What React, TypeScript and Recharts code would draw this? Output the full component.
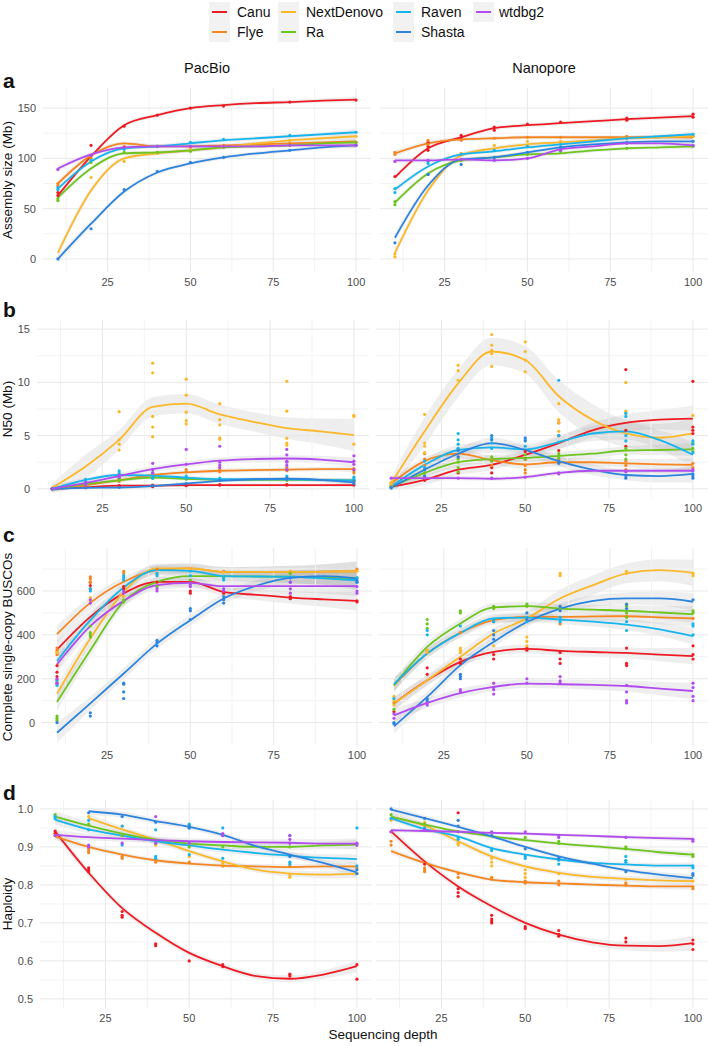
import React from 'react';
import { ComposedChart, Line, Scatter, Area, XAxis, YAxis, ReferenceLine } from 'recharts';

const FONT = '"Liberation Sans", Arial, Helvetica, sans-serif';

const ASSEMBLERS = ['Canu', 'Flye', 'NextDenovo', 'Ra', 'Raven', 'Shasta', 'wtdbg2'];
const COLORS = ['#EE1B24', '#F6861F', '#FBB829', '#6DC51E', '#17B5EE', '#2C84DF', '#B24CF0'];
const DEPTHS = [10, 20, 30, 40, 50, 60, 80, 100];
const FIT_DEPTHS = [10, 20, 30, 40, 50, 60, 70, 80, 90, 100];
const X_TICKS = [25, 50, 75, 100];
const X_MINOR = [12.5, 37.5, 62.5, 87.5];

// ---- a: assembly size (Mb) ----
const SIZE_PB_FIT = [
  [63, 102, 133, 143, 150, 153, 155, 156, 157.5, 158.5],
  [75, 103, 115, 112, 112, 113, 114, 115, 116, 117],
  [6, 68, 100, 105, 108, 111, 115, 118, 120, 122],
  [61, 90, 105, 106, 108, 111, 112, 113, 115, 116],
  [70, 97, 110, 112, 115, 118, 120, 122, 124, 126],
  [0, 35, 67, 86, 95, 101, 105, 108, 111, 113],
  [90, 104, 111, 112, 112, 112, 112, 113, 113, 113],
];
const SIZE_PB_PTS = [
  [[63, 66], [113], [132], [143], [150], [152], [156], [158]],
  [[75, 73], [100], [112], [112], [111], [113], [115], [116]],
  [[], [81], [97], [105], [108], [112], [118], [122]],
  [[58, 60], [96], [106], [106], [107], [111], [113], [116]],
  [[69, 71], [98], [109], [112], [116], [119], [123], [126]],
  [[0], [30], [69], [87], [96], [101], [108], [113]],
  [[89], [103], [111], [112], [112], [112], [113], [113]],
];
const SIZE_PB_SE = [
  [3, 2, 2, 2, 2, 2, 2, 2, 2, 3],
  [3, 2, 2, 2, 2, 2, 2, 2, 2, 3],
  [4, 3, 2, 2, 2, 2, 2, 2, 2, 3],
  [3, 2, 2, 2, 2, 2, 2, 2, 2, 3],
  [3, 2, 2, 2, 2, 2, 2, 2, 2, 3],
  [4, 3, 2, 2, 2, 2, 2, 2, 2, 3],
  [3, 2, 2, 2, 2, 2, 2, 2, 2, 3],
];
const SIZE_NP_FIT = [
  [81, 110, 121, 130, 133, 135, 137, 139, 140.5, 142],
  [105, 115, 119, 120, 121, 121, 121, 121, 121, 121],
  [6, 68, 103, 110, 114, 116, 118, 120, 121, 122],
  [56, 85, 98, 101, 104, 105, 108, 110, 111, 112],
  [69, 92, 104, 107, 111, 114, 117, 120, 122, 124],
  [21, 73, 99, 101, 106, 111, 114, 116, 117, 117],
  [98, 98, 99, 98, 100, 109, 112, 115, 115, 113],
];
const SIZE_NP_PTS = [
  [[82], [116, 112, 108], [123, 121], [131, 128], [134], [136], [140, 138], [144, 141]],
  [[106, 104], [118, 114], [118], [120], [121], [121], [122], [122]],
  [[2, 5], [], [105], [113], [117], [117], [120], [122]],
  [[54, 57], [84], [98], [101], [104], [107], [110], [112]],
  [[66, 70], [97, 95], [104], [108], [112], [114], [120], [124]],
  [[16], [84], [94], [101], [106], [111], [116], [117]],
  [[97], [98], [99], [98], [100], [108], [115], [113]],
];
const SIZE_NP_SE = SIZE_PB_SE;

// ---- b: N50 (Mb) ----
const N50_PB_FIT = [
  [0, 0.15, 0.3, 0.3, 0.35, 0.35, 0.35, 0.35, 0.35, 0.35],
  [0, 0.35, 0.8, 1.3, 1.55, 1.7, 1.75, 1.8, 1.85, 1.85],
  [0.1, 2.1, 4.6, 7.7, 8.0, 7.0, 6.3, 5.7, 5.4, 5.05],
  [0, 0.45, 0.8, 1.05, 0.95, 0.85, 0.85, 0.85, 0.82, 0.8],
  [0, 0.85, 1.3, 1.25, 1.05, 0.9, 0.9, 0.9, 0.85, 0.8],
  [0, 0.1, 0.12, 0.25, 0.5, 0.75, 0.9, 0.95, 0.85, 0.6],
  [0, 0.55, 1.2, 1.85, 2.3, 2.65, 2.8, 2.85, 2.75, 2.5],
];
const N50_PB_PTS = [
  [[0], [0.15], [0.3, 0.2], [0.35, 0.2], [0.35, 0.3], [0.4, 0.35], [0.4, 0.35], [0.35]],
  [[0], [0.3], [0.9, 0.7], [1.5, 1.2], [1.8, 1.6], [1.8, 1.6], [2.0, 1.8, 1.7], [1.9, 1.7, 1.5]],
  [[0], [], [7.25, 4.6, 4.2, 3.65], [11.8, 10.9, 6.8, 5.8, 4.9], [10.3, 8.8, 7.2, 6.4, 6.1], [8.0, 6.5, 6.0, 4.8, 4.65], [10.1, 7.3, 4.75, 4.3, 4.1], [6.9, 6.8, 4.2]],
  [[0], [0.5], [1.0, 0.8], [1.2, 1.0], [1.0, 0.9], [0.9], [0.9, 0.8], [0.8, 0.7]],
  [[0], [0.9, 0.7], [1.7, 1.5, 1.3], [1.5, 1.2, 1.0], [1.2, 1.0], [1.0, 0.9], [1.2, 1.0, 0.9], [1.1, 0.9]],
  [[0], [0.1], [0.15], [0.3], [0.5], [0.8], [1.0, 0.9], [0.7, 0.5]],
  [[0], [0.6, 0.4], [1.3, 1.1], [2.4, 1.8, 1.5], [3.7, 2.3], [4.0, 2.5, 2.2, 2.0], [3.7, 3.2, 2.6, 2.5, 2.2, 1.8], [3.1, 2.6, 2.3, 1.8]],
];
const N50_PB_SE = [
  [0.2, 0.15, 0.15, 0.15, 0.15, 0.15, 0.15, 0.15, 0.15, 0.2],
  [0.25, 0.2, 0.2, 0.2, 0.2, 0.2, 0.2, 0.2, 0.2, 0.3],
  [0.4, 1.1, 0.9, 0.9, 0.9, 0.9, 0.9, 1.0, 1.2, 1.5],
  [0.2, 0.15, 0.15, 0.15, 0.15, 0.15, 0.15, 0.15, 0.15, 0.2],
  [0.25, 0.2, 0.2, 0.2, 0.2, 0.2, 0.2, 0.2, 0.2, 0.25],
  [0.2, 0.15, 0.15, 0.15, 0.15, 0.15, 0.15, 0.15, 0.2, 0.25],
  [0.4, 0.3, 0.3, 0.3, 0.3, 0.3, 0.3, 0.3, 0.35, 0.45],
];
const N50_NP_FIT = [
  [0.2, 0.85, 1.8, 2.25, 3.2, 4.3, 5.5, 6.2, 6.5, 6.6],
  [0.5, 2.6, 3.3, 2.7, 2.3, 2.5, 2.5, 2.4, 2.3, 2.25],
  [0.5, 5.4, 9.9, 12.9, 12.1, 8.7, 6.5, 5.2, 4.8, 5.2],
  [0.2, 1.5, 2.5, 2.8, 2.9, 3.1, 3.3, 3.6, 3.65, 3.7],
  [0.2, 2.25, 3.65, 3.9, 3.7, 4.4, 5.2, 5.4, 4.6, 3.2],
  [0.1, 1.8, 3.3, 4.3, 3.65, 2.6, 1.8, 1.3, 1.2, 1.4],
  [1.0, 1.0, 1.0, 0.95, 1.1, 1.5, 1.7, 1.7, 1.7, 1.7],
];
const N50_NP_PTS = [
  [[0.2], [0.8], [1.5], [2.0, 1.5], [3.5, 2.8], [6.2, 5.0, 3.6], [11.2, 5.5, 4.0], [10.1, 5.8, 5.5, 5.2]],
  [[0.5, 0.3], [3.3, 2.8, 2.2], [3.8, 3.0], [2.7, 2.2], [2.2, 1.8, 1.5], [2.8, 2.5], [2.6, 2.2, 1.8], [2.4, 2.0]],
  [[0.6, 0.4], [7.0, 4.3, 4.0, 3.4], [11.6, 11.1, 10.2], [14.5, 13.5, 13.0, 12.7, 11.5], [13.8, 12.9, 12.1, 11.0], [8.0, 6.5, 6.2, 5.4], [10.0, 7.3, 7.1], [6.9]],
  [[0.2], [1.5, 1.2], [2.8, 2.5, 2.0, 1.6], [3.0, 2.6], [3.2, 2.8], [3.3, 2.9], [3.8, 3.2, 2.8], [4.3, 3.8, 3.5]],
  [[0.1], [2.6, 2.0], [5.2, 4.6, 4.2, 3.8], [4.8, 4.3, 3.8], [4.6, 4.0], [10.2, 5.0, 4.4], [7.1, 6.8, 5.0, 4.5], [4.5, 4.2, 3.4]],
  [[0.1], [1.8, 1.2], [3.6, 3.0], [5.0, 4.6], [4.8, 4.5], [2.6, 2.4], [1.2, 1.0], [1.4, 1.2, 1.0]],
  [[1.0], [1.0], [1.0], [1.0], [1.1], [1.5, 1.4], [1.7, 1.6], [1.8, 1.7]],
];
const N50_NP_SE = [
  [0.3, 0.5, 0.5, 0.5, 0.5, 0.6, 0.7, 0.8, 0.9, 1.2],
  [0.3, 0.4, 0.4, 0.4, 0.4, 0.4, 0.4, 0.4, 0.5, 0.6],
  [0.6, 1.3, 1.3, 1.3, 1.3, 1.5, 1.5, 1.3, 1.3, 1.4],
  [0.3, 0.4, 0.4, 0.4, 0.4, 0.4, 0.4, 0.4, 0.5, 0.6],
  [0.3, 0.5, 0.5, 0.5, 0.5, 0.6, 0.7, 0.8, 0.9, 1.2],
  [0.3, 0.5, 0.5, 0.5, 0.5, 0.5, 0.5, 0.5, 0.6, 0.8],
  [0.2, 0.2, 0.2, 0.2, 0.2, 0.2, 0.2, 0.2, 0.2, 0.3],
];

// ---- c: complete single-copy BUSCOs ----
const BUSCO_PB_FIT = [
  [333, 482, 589, 642, 642, 596, 582, 570, 562, 555],
  [403, 546, 642, 695, 703, 687, 687, 687, 688, 690],
  [132, 383, 596, 703, 703, 687, 687, 687, 688, 690],
  [94, 330, 551, 642, 668, 668, 666, 665, 662, 655],
  [281, 467, 616, 695, 692, 668, 666, 665, 658, 649],
  [-46, 88, 224, 360, 467, 566, 625, 660, 668, 657],
  [266, 440, 555, 627, 637, 622, 622, 622, 622, 622],
];
const BUSCO_PB_PTS = [
  [[260, 230, 210, 195, 180], [640, 625, 610], [620, 610], [640], [600, 590], [590], [575, 565], [555, 550]],
  [[340, 330, 320, 310], [665, 655, 640], [690, 680], [700], [700], [690], [690], [700]],
  [[320], [570, 555], [575], [680], [700], [685], [690], [690]],
  [[30, 20, 10], [440, 410, 400, 390], [560, 550], [620], [650], [660], [680], [660]],
  [[170, 190], [610, 600], [670, 660, 650], [680, 670], [690, 670], [660, 650], [660], [660, 640]],
  [[0], [45, 30], [180, 175, 140, 110], [375, 365, 350], [520, 510, 470], [575, 560, 545], [660, 640], [650, 640]],
  [[200, 180], [560, 545], [600, 590], [610, 600], [630, 620], [610, 600], [640, 610, 590], [620, 600, 590]],
];
const BUSCO_PB_SE = [
  [40, 28, 22, 22, 22, 22, 24, 28, 34, 45],
  [40, 28, 22, 22, 22, 22, 24, 28, 34, 45],
  [40, 28, 22, 22, 22, 22, 24, 28, 34, 45],
  [40, 28, 22, 22, 22, 22, 24, 28, 34, 45],
  [40, 28, 22, 22, 22, 22, 24, 28, 34, 45],
  [45, 30, 25, 25, 25, 25, 26, 30, 36, 48],
  [40, 28, 22, 22, 22, 22, 24, 28, 34, 45],
];
const BUSCO_NP_FIT = [
  [87, 193, 277, 322, 336, 327, 322, 318, 310, 303],
  [170, 315, 409, 467, 482, 482, 484, 485, 480, 475],
  [87, 193, 300, 406, 475, 566, 627, 680, 695, 683],
  [170, 345, 452, 525, 531, 520, 515, 510, 502, 494],
  [175, 315, 409, 475, 479, 470, 460, 447, 425, 394],
  [-17, 117, 262, 368, 459, 520, 555, 566, 566, 551],
  [33, 90, 135, 163, 178, 175, 172, 167, 155, 144],
];
const BUSCO_NP_PTS = [
  [[50], [250, 220], [290, 270], [310, 290], [340, 330], [320, 290, 270], [340, 270, 260], [350, 310, 290]],
  [[90], [330], [410], [460], [480], [450], [485], [475]],
  [[120, 100, 80], [330, 320], [340, 330, 320], [350], [390, 370, 350], [680, 670], [690, 680], [680, 670]],
  [[60], [470, 450, 430], [510, 500], [530, 520], [540, 530], [520], [530, 500, 480], [510, 500]],
  [[110], [420, 400], [440], [470, 460], [480, 460], [480, 460], [460, 420], [450, 440, 400]],
  [[0, -5], [110, 100], [220, 210, 200], [420, 400, 380], [500, 470], [530, 510], [540, 520], [560]],
  [[40, 20], [90, 80], [150, 140], [180, 160, 150, 130], [200, 180], [210, 190, 180], [170, 140, 100, 90], [180, 160, 120, 100]],
];
const BUSCO_NP_SE = [
  [30, 22, 20, 20, 20, 20, 22, 25, 30, 38],
  [30, 22, 20, 20, 20, 20, 22, 25, 30, 38],
  [30, 25, 25, 25, 30, 40, 45, 45, 50, 60],
  [30, 22, 20, 20, 20, 20, 22, 25, 30, 38],
  [30, 22, 20, 20, 20, 20, 22, 25, 30, 38],
  [32, 25, 22, 22, 22, 24, 26, 28, 32, 40],
  [30, 22, 20, 20, 20, 20, 22, 25, 30, 38],
];

// ---- d: haploidy ----
const HAP_PB_FIT = [
  [0.941, 0.832, 0.739, 0.674, 0.621, 0.586, 0.56, 0.553, 0.564, 0.586],
  [0.928, 0.9, 0.88, 0.865, 0.856, 0.851, 0.849, 0.847, 0.849, 0.849],
  [null, 0.976, 0.946, 0.919, 0.889, 0.862, 0.84, 0.83, 0.827, 0.83],
  [0.98, 0.956, 0.935, 0.919, 0.909, 0.904, 0.9, 0.9, 0.904, 0.906],
  [0.972, 0.946, 0.93, 0.915, 0.904, 0.893, 0.884, 0.877, 0.871, 0.868],
  [null, 0.994, 0.985, 0.968, 0.953, 0.932, 0.902, 0.88, 0.858, 0.833],
  [0.932, 0.926, 0.922, 0.918, 0.915, 0.913, 0.912, 0.911, 0.909, 0.909],
];
const HAP_PB_PTS = [
  [[0.942, 0.936], [0.845, 0.84, 0.835], [0.73, 0.72, 0.715], [0.645, 0.64], [0.6], [0.59, 0.585], [0.565, 0.56], [0.59, 0.552]],
  [[0.93], [0.895, 0.89, 0.885], [0.875, 0.87], [0.865, 0.86], [0.86], [0.85], [0.85], [0.845]],
  [[], [0.98], [0.955], [0.905], [0.875], [0.86, 0.855], [0.825, 0.82], [0.83]],
  [[0.985], [0.96], [0.93], [0.91], [0.9], [0.9], [0.9], [0.905]],
  [[0.98, 0.975], [0.97, 0.945], [0.955, 0.905], [0.945, 0.875, 0.87], [0.96, 0.95, 0.88], [0.95, 0.87], [0.93, 0.86, 0.855], [0.95, 0.85]],
  [[], [0.99], [0.98], [0.965], [0.955, 0.95], [0.93], [0.875], [0.83, 0.84]],
  [[0.93], [0.905, 0.9], [0.91], [0.98, 0.91], [0.91], [0.935, 0.93], [0.93, 0.92, 0.91], [0.91, 0.905]],
];
const HAP_PB_SE = [
  [0.012, 0.009, 0.008, 0.008, 0.008, 0.008, 0.008, 0.009, 0.011, 0.015],
  [0.01, 0.007, 0.006, 0.006, 0.006, 0.006, 0.006, 0.007, 0.008, 0.01],
  [0.01, 0.01, 0.008, 0.007, 0.007, 0.007, 0.007, 0.008, 0.009, 0.012],
  [0.014, 0.01, 0.008, 0.008, 0.008, 0.008, 0.008, 0.009, 0.01, 0.013],
  [0.014, 0.01, 0.008, 0.008, 0.008, 0.008, 0.008, 0.009, 0.01, 0.013],
  [0.01, 0.01, 0.008, 0.007, 0.007, 0.007, 0.007, 0.008, 0.009, 0.012],
  [0.012, 0.009, 0.008, 0.008, 0.008, 0.008, 0.008, 0.009, 0.011, 0.014],
];
const HAP_NP_FIT = [
  [0.941, 0.862, 0.796, 0.744, 0.7, 0.669, 0.649, 0.64, 0.639, 0.647],
  [0.889, 0.858, 0.833, 0.814, 0.807, 0.804, 0.801, 0.798, 0.796, 0.796],
  [0.98, 0.956, 0.915, 0.875, 0.849, 0.832, 0.821, 0.816, 0.812, 0.81],
  [0.979, 0.959, 0.941, 0.928, 0.918, 0.909, 0.902, 0.895, 0.886, 0.88],
  [0.976, 0.947, 0.928, 0.897, 0.88, 0.867, 0.858, 0.854, 0.851, 0.851],
  [0.998, 0.976, 0.953, 0.928, 0.9, 0.875, 0.856, 0.839, 0.827, 0.818],
  [0.944, 0.942, 0.94, 0.937, 0.935, 0.932, 0.929, 0.926, 0.923, 0.921],
];
const HAP_NP_PTS = [
  [[0.94], [0.855], [0.99, 0.79, 0.78, 0.77], [0.72, 0.71, 0.705, 0.7], [0.69, 0.685], [0.68, 0.67, 0.665], [0.66, 0.65], [0.655, 0.645, 0.63]],
  [[0.915, 0.905], [0.845, 0.84, 0.835], [0.83, 0.82], [0.82, 0.815], [0.81, 0.805], [0.81, 0.8], [0.805, 0.8], [0.795, 0.79]],
  [[0.97], [0.965, 0.955], [0.91, 0.905], [0.87, 0.86, 0.85], [0.84, 0.83, 0.82], [0.83], [0.815], [0.81]],
  [[0.985], [0.96], [0.94], [0.93], [0.925], [0.915, 0.91], [0.9, 0.895], [0.88, 0.875]],
  [[0.975], [0.95], [0.925, 0.92], [0.895, 0.89], [0.875, 0.87], [0.87, 0.865, 0.855], [0.875, 0.865, 0.86], [0.85, 0.845]],
  [[1.0], [0.975], [0.97, 0.955], [0.93], [0.895], [0.87], [0.835], [0.83, 0.825]],
  [[0.94], [0.945], [0.94], [0.94], [0.94], [0.93, 0.925], [0.925], [0.92, 0.915]],
];
const HAP_NP_SE = [
  [0.012, 0.009, 0.008, 0.008, 0.008, 0.009, 0.01, 0.012, 0.015, 0.02],
  [0.008, 0.006, 0.005, 0.005, 0.005, 0.005, 0.005, 0.006, 0.007, 0.009],
  [0.01, 0.008, 0.007, 0.007, 0.007, 0.007, 0.007, 0.008, 0.009, 0.011],
  [0.008, 0.006, 0.005, 0.005, 0.005, 0.005, 0.005, 0.006, 0.007, 0.009],
  [0.008, 0.006, 0.005, 0.005, 0.005, 0.005, 0.005, 0.006, 0.007, 0.009],
  [0.009, 0.007, 0.006, 0.006, 0.006, 0.006, 0.006, 0.007, 0.008, 0.01],
  [0.006, 0.005, 0.004, 0.004, 0.004, 0.004, 0.004, 0.005, 0.006, 0.007],
];

type N = number | null;

interface PanelProps {
  fits: N[][];
  se: number[][];
  pts: number[][][];
  domain: [number, number];
  ticks: number[];
  minor: number[];
  left: number;
  right: number;
  top: number;
  bottom: number;
  axis: boolean;
  fmt?: (v: number) => string;
}

const tickStyle = { fontSize: 11, fill: '#4d4d4d', fontFamily: FONT };
const MAJOR = '#e8e8e8';
const MINOR = '#f3f3f3';

function Panel({ fits, se, pts, domain, ticks, minor, left, right, top, bottom, axis, fmt }: PanelProps) {
  const yw = axis ? 40 : 0;
  const xh = 22;
  const rows = FIT_DEPTHS.map((x, i) => {
    const r: Record<string, any> = { x };
    fits.forEach((f, s) => {
      const v = f[i];
      r[`fit${s}`] = v;
      r[`band${s}`] = v == null ? null : [v - se[s][i], v + se[s][i]];
    });
    return r;
  });
  return (
    <div style={{ position: 'absolute', left: left - yw, top }}>
      <ComposedChart
        width={right - left + yw}
        height={bottom - top + xh}
        data={rows}
        margin={{ top: 0, right: 0, bottom: 0, left: 0 }}
      >
        <XAxis
          type="number"
          dataKey="x"
          domain={[5.5, 104.5]}
          ticks={X_TICKS}
          allowDataOverflow
          axisLine={false}
          tickLine={false}
          tickSize={0}
          tickMargin={6}
          height={xh}
          tick={tickStyle}
        />
        <YAxis
          type="number"
          domain={domain}
          ticks={ticks}
          allowDataOverflow
          hide={!axis}
          width={yw}
          axisLine={false}
          tickLine={false}
          tickSize={0}
          tickMargin={7}
          tickFormatter={fmt}
          tick={tickStyle}
        />
        {minor.map((v) => (
          <ReferenceLine key={`my${v}`} y={v} stroke={MINOR} strokeWidth={1} />
        ))}
        {X_MINOR.map((v) => (
          <ReferenceLine key={`mx${v}`} x={v} stroke={MINOR} strokeWidth={1} />
        ))}
        {ticks.map((v) => (
          <ReferenceLine key={`gy${v}`} y={v} stroke={MAJOR} strokeWidth={1} />
        ))}
        {X_TICKS.map((v) => (
          <ReferenceLine key={`gx${v}`} x={v} stroke={MAJOR} strokeWidth={1} />
        ))}
        {fits.map((_, s) => (
          <Area
            key={`b${s}`}
            dataKey={`band${s}`}
            type="monotone"
            stroke="none"
            fill="#999999"
            fillOpacity={0.17}
            isAnimationActive={false}
            activeDot={false}
          />
        ))}
        {pts.map((p, s) => (
          <Scatter
            key={`p${s}`}
            data={DEPTHS.flatMap((d, i) => p[i].map((y) => ({ x: d, y })))}
            dataKey="y"
            fill={COLORS[s]}
            isAnimationActive={false}
            shape={(props: any) => <circle cx={props.cx} cy={props.cy} r={1.6} fill={COLORS[s]} />}
          />
        ))}
        {fits.map((_, s) => (
          <Line
            key={`l${s}`}
            dataKey={`fit${s}`}
            type="monotone"
            stroke={COLORS[s]}
            strokeWidth={1.8}
            dot={false}
            activeDot={false}
            isAnimationActive={false}
          />
        ))}
      </ComposedChart>
    </div>
  );
}

const ROWS = [
  {
    letter: 'a', title: 'Assembly size (Mb)', top: 88, bottom: 272, L: [43, 371], R: [380, 708], baseline: 86,
    domain: [-13, 170] as [number, number], ticks: [0, 50, 100, 150], minor: [25, 75, 125],
    pb: [SIZE_PB_FIT, SIZE_PB_SE, SIZE_PB_PTS], np: [SIZE_NP_FIT, SIZE_NP_SE, SIZE_NP_PTS],
  },
  {
    letter: 'b', title: 'N50 (Mb)', top: 320, bottom: 498, L: [37, 369], R: [376, 708], baseline: 315,
    domain: [-0.86, 15.86] as [number, number], ticks: [0, 5, 10, 15], minor: [2.5, 7.5, 12.5],
    pb: [N50_PB_FIT, N50_PB_SE, N50_PB_PTS], np: [N50_NP_FIT, N50_NP_SE, N50_NP_PTS],
  },
  {
    letter: 'c', title: 'Complete single-copy BUSCOs', top: 548, bottom: 745, L: [42, 372], R: [379, 708], baseline: 540,
    domain: [-102, 796] as [number, number], ticks: [0, 200, 400, 600], minor: [100, 300, 500, 700],
    pb: [BUSCO_PB_FIT, BUSCO_PB_SE, BUSCO_PB_PTS], np: [BUSCO_NP_FIT, BUSCO_NP_SE, BUSCO_NP_PTS],
  },
  {
    letter: 'd', title: 'Haploidy', top: 800, bottom: 1008, L: [40, 372], R: [376, 708], baseline: 798,
    domain: [0.476, 1.0236] as [number, number], ticks: [0.5, 0.6, 0.7, 0.8, 0.9, 1.0], minor: [0.55, 0.65, 0.75, 0.85, 0.95],
    pb: [HAP_PB_FIT, HAP_PB_SE, HAP_PB_PTS], np: [HAP_NP_FIT, HAP_NP_SE, HAP_NP_PTS], fmt: (v: number) => v.toFixed(1),
  },
];

const LEGEND_COLS = [
  { box: 209, text: 237, items: [0, 1] },
  { box: 278, text: 306, items: [2, 3] },
  { box: 393, text: 421, items: [4, 5] },
  { box: 473, text: 499, items: [6] },
];

const txt: React.CSSProperties = { position: 'absolute', fontFamily: FONT, color: '#111', whiteSpace: 'nowrap', lineHeight: 1 };

export default function App() {
  return (
    <div style={{ position: 'absolute', left: 0, top: 0, width: 708, height: 1046, background: '#fff', overflow: 'hidden' }}>
      {/* legend */}
      {LEGEND_COLS.map((col) =>
        col.items.map((s, r) => (
          <React.Fragment key={ASSEMBLERS[s]}>
            <div style={{ position: 'absolute', left: col.box, top: 2 + r * 20, width: 21, height: 20, background: '#f2f2f2' }}>
              <div style={{ position: 'absolute', left: 3, top: 9, width: 15, height: 2, background: COLORS[s] }} />
            </div>
            <div style={{ ...txt, left: col.text, top: 5 + r * 20, fontSize: 14 }}>{ASSEMBLERS[s]}</div>
          </React.Fragment>
        ))
      )}
      {/* column titles */}
      <div style={{ ...txt, left: 207, top: 61, fontSize: 14.5, transform: 'translateX(-50%)' }}>PacBio</div>
      <div style={{ ...txt, left: 544, top: 61, fontSize: 14.5, transform: 'translateX(-50%)' }}>Nanopore</div>

      {ROWS.map((row) => (
        <React.Fragment key={row.letter}>
          <div style={{ ...txt, left: 3, top: row.baseline - 16, fontSize: 21, fontWeight: 700 }}>{row.letter}</div>
          <div
            style={{
              ...txt,
              left: 8,
              top: (row.top + row.bottom) / 2,
              fontSize: 13.5,
              transform: 'translate(-50%, -50%) rotate(-90deg)',
            }}
          >
            {row.title}
          </div>
          <Panel
            fits={row.pb[0] as N[][]}
            se={row.pb[1] as number[][]}
            pts={row.pb[2] as number[][][]}
            domain={row.domain}
            ticks={row.ticks}
            minor={row.minor}
            left={row.L[0]}
            right={row.L[1]}
            top={row.top}
            bottom={row.bottom}
            axis
            fmt={row.fmt}
          />
          <Panel
            fits={row.np[0] as N[][]}
            se={row.np[1] as number[][]}
            pts={row.np[2] as number[][][]}
            domain={row.domain}
            ticks={row.ticks}
            minor={row.minor}
            left={row.R[0]}
            right={row.R[1]}
            top={row.top}
            bottom={row.bottom}
            axis={false}
          />
        </React.Fragment>
      ))}

      <div style={{ ...txt, left: 383, top: 1028, fontSize: 13.5, transform: 'translateX(-50%)' }}>Sequencing depth</div>
    </div>
  );
}
